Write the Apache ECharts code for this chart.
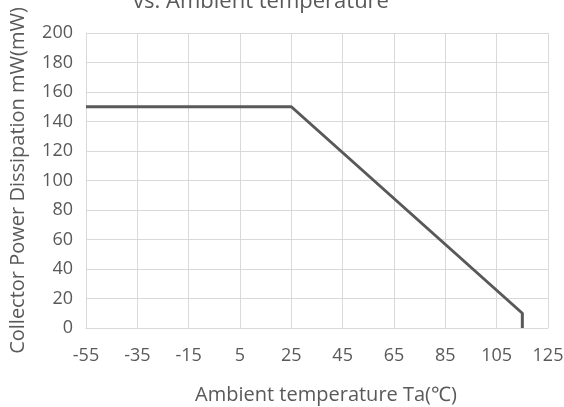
<!DOCTYPE html>
<html><head><meta charset="utf-8">
<script src="https://cdn.jsdelivr.net/npm/echarts@6/dist/echarts.min.js"></script>
<style>html,body{margin:0;padding:0;background:#fff}#c{width:564px;height:407px}</style>
</head><body><div id="c"></div>
<script>
const temps = [-55, 25, 115, 115];
const power = [150, 150, 10, 0];
const xTicks = [-55, -35, -15, 5, 25, 45, 65, 85, 105, 125];
const yMin = 0, yMax = 200, yStep = 20;
const xOffset = 55;
const chart = echarts.init(document.getElementById('c'));
const font = '"Open Sans", sans-serif';
chart.setOption({
  animation: false,
  title: { text: 'vs. Ambient temperature', left: 256, textAlign: 'center', top: -14,
    textStyle: { fontFamily: font, fontSize: 22, fontWeight: 'normal', color: '#595959' } },
  grid: { left: 86, right: 16, top: 33, bottom: 79, outerBoundsMode: 'none', containLabel: false },
  xAxis: { type: 'value', min: xTicks[0] + xOffset, max: xTicks[xTicks.length-1] + xOffset, interval: 20,
    name: 'Ambient temperature Ta(℃)', nameLocation: 'middle', nameGap: 57,
    nameTextStyle: { fontFamily: font, fontSize: 20, color: '#595959', padding: [0,0,0,18] },
    axisLine: { lineStyle: { color: '#d9d9d9' } }, axisTick: { show: false },
    splitLine: { show: true, lineStyle: { color: '#d9d9d9' } },
    axisLabel: { fontFamily: font, fontSize: 18, color: '#595959', margin: 19, formatter: v => String(v - xOffset) } },
  yAxis: { type: 'value', min: yMin, max: yMax, interval: yStep,
    name: 'Collector Power Dissipation mW(mW)', nameLocation: 'middle', nameGap: 58,
    nameTextStyle: { fontFamily: font, fontSize: 20, color: '#595959' },
    axisLine: { show: true, lineStyle: { color: '#d9d9d9' } }, axisTick: { show: false },
    splitLine: { lineStyle: { color: '#d9d9d9' } },
    axisLabel: { fontFamily: font, fontSize: 18, color: '#595959', margin: 13 } },
  series: [{ type: 'line', data: temps.map((t, i) => [t + xOffset, power[i]]),
    symbol: 'none', lineStyle: { color: '#595959', width: 3 } }]
});
</script></body></html>
